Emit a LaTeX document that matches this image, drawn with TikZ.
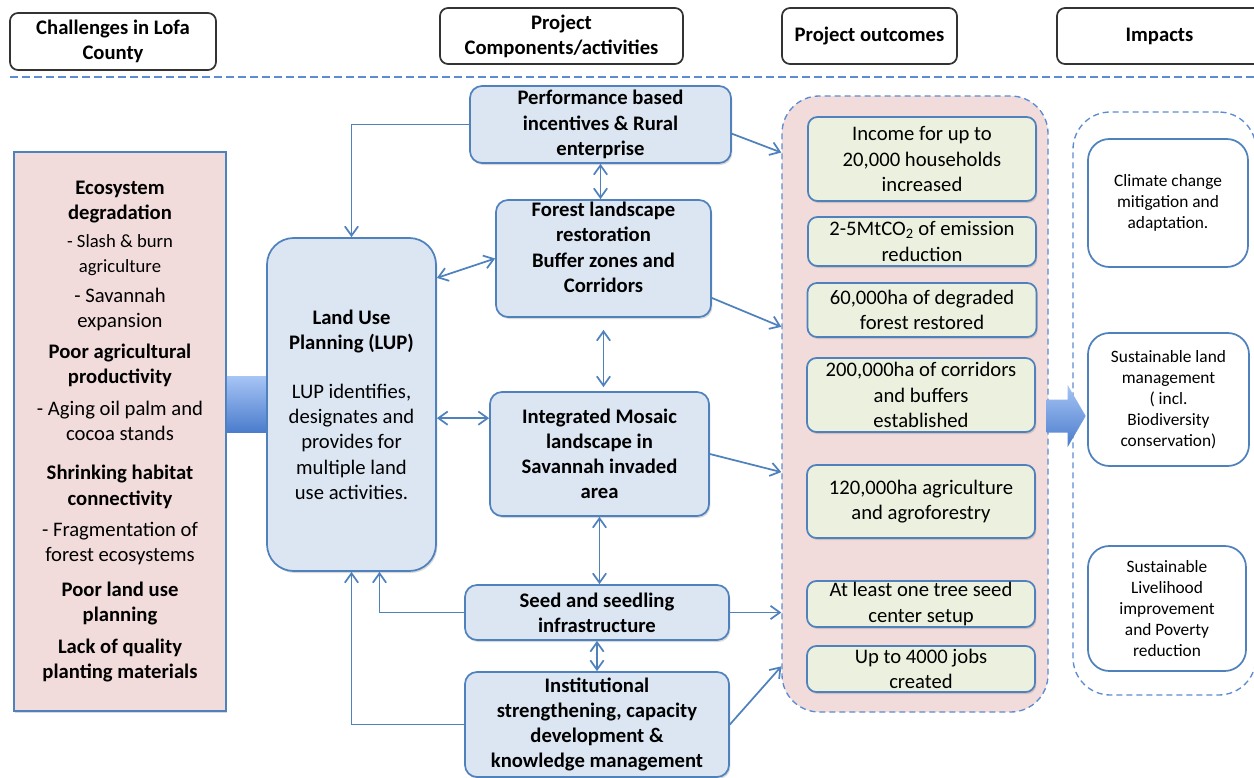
\documentclass[tikz,border=0pt]{standalone}
\usepackage{fontspec}
\setmainfont{Carlito}
\usepackage{tikz}
\usetikzlibrary{arrows.meta, positioning, calc, shadows}
\definecolor{lineblue}{HTML}{4F81BD}
\definecolor{compfill}{HTML}{DCE6F2}
\definecolor{pinkfill}{HTML}{F2DCDB}
\definecolor{greenfill}{HTML}{EBF1DE}
\definecolor{dashblue}{HTML}{5B8BD0}
\definecolor{arrlight}{HTML}{A6C4F5}
\definecolor{arrdark}{HTML}{4A7CCC}
\newcommand{\boxfont}{\fontsize{15.5}{18.9}\selectfont}
\newcommand{\impfont}{\fontsize{13}{15.8}\selectfont}
\newcommand{\chsub}[1]{{\fontsize{14}{17}\selectfont #1}}
\tikzset{
  wh/.style 2 args = {minimum width=#1*0.75pt, minimum height=#2*0.75pt},
  shadowed/.style  = {drop shadow={shadow xshift=1pt, shadow yshift=-1.5pt, opacity=0.3}},
  head/.style      = {rectangle, rounded corners=6pt, draw=black!80, line width=1.3pt, fill=white,
                      align=center, font=\boxfont\bfseries, inner sep=0pt},
  chal/.style      = {rectangle, draw=lineblue, line width=1.3pt, fill=pinkfill,
                      align=center, font=\boxfont, inner sep=0pt, shadowed},
  comp/.style      = {rectangle, rounded corners=9pt, draw=lineblue, line width=1.3pt, fill=compfill,
                      align=center, font=\boxfont\bfseries, inner sep=0pt, shadowed},
  outc/.style      = {rectangle, rounded corners=7pt, draw=lineblue, line width=1.3pt, fill=greenfill,
                      align=center, font=\boxfont, inner sep=0pt, shadowed},
  imp/.style       = {rectangle, rounded corners=16pt, draw=lineblue, line width=1.3pt, fill=white,
                      align=center, font=\impfont, inner sep=0pt},
  group/.style     = {rectangle, rounded corners=28pt, draw=dashblue, line width=1pt,
                      dash pattern=on 4.5pt off 3pt},
  sepline/.style   = {draw=dashblue, line width=1.5pt, dash pattern=on 6pt off 3pt},
  arr/.style       = {-{Straight Barb[length=7pt, width=10pt]}, line width=1.3pt, draw=lineblue},
  dbl/.style       = {{Straight Barb[length=7pt, width=10pt]}-{Straight Barb[length=7pt, width=10pt]},
                      line width=1.3pt, draw=lineblue},
  blockarr/.style  = {top color=arrlight, bottom color=arrdark}
}

\begin{document}
\begin{tikzpicture}[x=0.75pt, y=-0.75pt]
  \useasboundingbox (0,0) rectangle (1254,778);

  % column headers
  \node[head, wh={206}{57}] (h1) at (113,41.5) {Challenges in Lofa\\County};
  \node[head, wh={243}{56}] (h2) at (561.5,36) {Project\\Components/activities};
  \node[head, wh={175}{56}] (h3) at (869.5,36) {Project outcomes};
  \node[head, wh={205}{56}] (h4) at (1159.5,36) {Impacts};
  \draw[sepline] (10,77) -- (1254,77);

  % challenges
  \node[chal, wh={212}{559}] (chal) at (120,431.5) {%
    \textbf{Ecosystem}\\\textbf{degradation}\\[2pt]
    \chsub{- Slash \& burn}\\\chsub{agriculture}\\[3pt]
    - Savannah\\expansion\\[4.5pt]
    \textbf{Poor agricultural}\\\textbf{productivity}\\[5pt]
    - Aging oil palm and\\cocoa stands\\[10.5pt]
    \textbf{Shrinking habitat}\\\textbf{connectivity}\\[4.5pt]
    - Fragmentation of\\forest ecosystems\\[7.5pt]
    \textbf{Poor land use}\\\textbf{planning}\\[4.5pt]
    \textbf{Lack of quality}\\\textbf{planting materials}};

  \shade[blockarr] ($(chal.east |- 0,404.5)+(0,-28)$) rectangle ($(267,404.5)+(0,28)$);

  % land use planning
  \node[comp, rounded corners=20pt, font=\boxfont, wh={169}{333}] (lup) at (351.5,404.5) {%
    \textbf{Land Use}\\\textbf{Planning (LUP)}\\[18pt]
    LUP identifies,\\designates and\\provides for\\multiple land\\use activities.};

  % components
  \node[comp, wh={261}{77}]  (pbi) at (600.5,124.5) {Performance based\\incentives \& Rural\\enterprise};
  \node[comp, wh={215}{117}, text depth=17pt] (flr) at (603.5,258.5) {Forest landscape\\restoration\\Buffer zones and\\Corridors};
  \node[comp, wh={219}{124}] (iml) at (599.5,454)   {Integrated Mosaic\\landscape in\\Savannah invaded\\area};
  \node[comp, wh={264}{55}]  (ssi) at (597,612.5)   {Seed and seedling\\infrastructure};
  \node[comp, wh={264}{105}] (isc) at (597,724.5)   {Institutional\\strengthening, capacity\\development \&\\knowledge management};

  % outcomes
  \node[group, fill=pinkfill, wh={266}{616}] (outbox) at (915,404) {};
  \node[outc, wh={228}{84}] (o1) at (922,159)   {Income for up to\\20,000 households\\increased};
  \node[outc, wh={228}{49}] (o2) at (922,241.5) {2-5MtCO\textsubscript{2} of emission\\reduction};
  \node[outc, wh={229}{54}] (o3) at (922,310)   {60,000ha of degraded\\forest restored};
  \node[outc, wh={228}{74}] (o4) at (921,395)   {200,000ha of corridors\\and buffers\\established};
  \node[outc, wh={228}{73}] (o5) at (921,501.5) {120,000ha agriculture\\and agroforestry};
  \node[outc, wh={228}{46}] (o6) at (921,604)   {At least one tree seed\\center setup};
  \node[outc, wh={228}{46}] (o7) at (921,669)   {Up to 4000 jobs\\created};

  % impacts
  \node[group, fill=white, wh={183}{583}] (impbox) at (1164.5,403.5) {};
  \node[imp, wh={160}{128}] (i1) at (1168,203)   {Climate change\\mitigation and\\adaptation.};
  \node[imp, wh={161}{133}] (i2) at (1168.5,399.5) {Sustainable land\\management\\( incl.\\Biodiversity\\conservation)};
  \node[imp, wh={158}{125}] (i3) at (1167,608.5) {Sustainable\\Livelihood\\improvement\\and Poverty\\reduction};

  \coordinate (ba) at ($(outbox.east)+(-2,12)$);
  \begin{scope}[shift={(ba)}]
    \shade[blockarr] (0,-16.5) -- (21,-16.5) -- (21,-31) -- (39,0) -- (21,31) -- (21,16.5) -- (0,16.5) -- cycle;
  \end{scope}

  % connectors
  \draw[arr] (pbi.west) -| (lup.north);
  \draw[arr] (ssi.west) -| ([xshift=21pt]lup.south);
  \draw[arr] (isc.west) -| (lup.south);
  \draw[dbl] (lup.56) -- (flr.west);
  \draw[dbl] (lup.east |- iml.162) -- (iml.162);
  \draw[dbl] (pbi.south) -- (pbi.south |- flr.north);
  \draw[dbl, shorten <=9pt, shorten >=3pt] (flr.south) -- (flr.south |- iml.north);
  \draw[dbl] (iml.south) -- (iml.south |- ssi.north);
  \draw[dbl] (ssi.south) -- (isc.north);
  \draw[arr] (pbi.-4) -- (outbox.118);
  \draw[arr] (flr.-20) -- (outbox.150);
  \draw[arr] (iml.east) -- (outbox.207);
  \draw[arr] (ssi.east) -- (outbox.west |- ssi.east);
  \draw[arr] (isc.east) -- (outbox.243);
\end{tikzpicture}
\end{document}
